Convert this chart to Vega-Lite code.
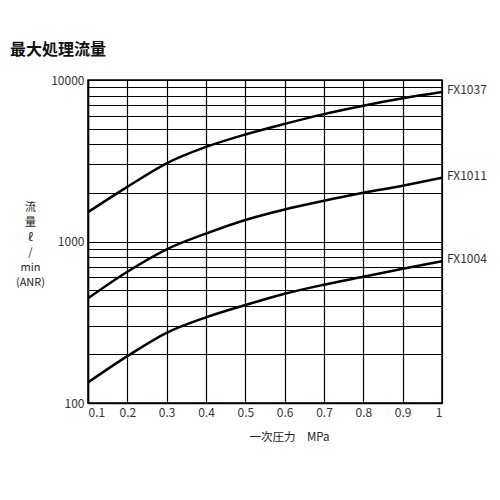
{
  "$schema": "https://vega.github.io/schema/vega-lite/v6.json",
  "width": 354,
  "height": 323,
  "autosize": "none",
  "padding": {"left": 88, "top": 80, "right": 58, "bottom": 97},
  "background": "white",
  "title": {
    "text": "最大処理流量",
    "anchor": "start",
    "frame": "group",
    "dx": -78,
    "offset": 16,
    "font": "Noto Sans CJK JP",
    "fontSize": 16,
    "fontWeight": "bold",
    "color": "#111"
  },
  "config": {
    "view": {"stroke": "black", "strokeWidth": 1.5},
    "axis": {
      "labelFont": "Noto Sans CJK JP",
      "titleFont": "Noto Sans CJK JP",
      "labelFontSize": 12,
      "titleFontSize": 11.5,
      "labelColor": "#333",
      "titleColor": "#222",
      "titleFontWeight": "normal",
      "gridColor": "black",
      "gridOpacity": 1,
      "gridWidth": 1.2,
      "domainColor": "black",
      "domainWidth": 1.5,
      "ticks": false
    }
  },
  "data": {
    "values": [
      {"series": "FX1037", "p": 0.1, "q": 1520},
      {"series": "FX1037", "p": 0.2, "q": 2180},
      {"series": "FX1037", "p": 0.3, "q": 3050},
      {"series": "FX1037", "p": 0.4, "q": 3850},
      {"series": "FX1037", "p": 0.5, "q": 4600},
      {"series": "FX1037", "p": 0.6, "q": 5350},
      {"series": "FX1037", "p": 0.7, "q": 6150},
      {"series": "FX1037", "p": 0.8, "q": 6930},
      {"series": "FX1037", "p": 0.9, "q": 7700},
      {"series": "FX1037", "p": 1.0, "q": 8430},
      {"series": "FX1011", "p": 0.1, "q": 445},
      {"series": "FX1011", "p": 0.2, "q": 650},
      {"series": "FX1011", "p": 0.3, "q": 895},
      {"series": "FX1011", "p": 0.4, "q": 1120},
      {"series": "FX1011", "p": 0.5, "q": 1360},
      {"series": "FX1011", "p": 0.6, "q": 1580},
      {"series": "FX1011", "p": 0.7, "q": 1790},
      {"series": "FX1011", "p": 0.8, "q": 2005},
      {"series": "FX1011", "p": 0.9, "q": 2215},
      {"series": "FX1011", "p": 1.0, "q": 2480},
      {"series": "FX1004", "p": 0.1, "q": 134},
      {"series": "FX1004", "p": 0.2, "q": 195},
      {"series": "FX1004", "p": 0.3, "q": 272},
      {"series": "FX1004", "p": 0.4, "q": 339},
      {"series": "FX1004", "p": 0.5, "q": 404},
      {"series": "FX1004", "p": 0.6, "q": 475},
      {"series": "FX1004", "p": 0.7, "q": 540},
      {"series": "FX1004", "p": 0.8, "q": 605},
      {"series": "FX1004", "p": 0.9, "q": 678},
      {"series": "FX1004", "p": 1.0, "q": 754}
    ]
  },
  "encoding": {
    "x": {
      "field": "p",
      "type": "quantitative",
      "scale": {"domain": [0.1, 1], "nice": false, "zero": false},
      "axis": {
        "values": [0.1, 0.2, 0.3, 0.4, 0.5, 0.6, 0.7, 0.8, 0.9, 1],
        "format": "~g",
        "labelPadding": 4,
        "title": "一次圧力　MPa",
        "titleX": 201,
        "titleY": 28
      }
    },
    "y": {
      "field": "q",
      "type": "quantitative",
      "scale": {"type": "log", "domain": [100, 10000], "nice": false},
      "axis": {
        "values": [100, 200, 300, 400, 500, 600, 700, 800, 900, 1000, 2000, 3000, 4000, 5000, 6000, 7000, 8000, 9000, 10000],
        "labelExpr": "datum.value == 100 || datum.value == 1000 || datum.value == 10000 ? datum.value : ''",
        "labelPadding": 4,
        "title": ["流", "量", "ℓ", "/", "min", "(ANR)"],
        "titleAngle": 0,
        "titleAlign": "center",
        "titleBaseline": "top",
        "titleFontSize": 11,
        "titleX": -58,
        "titleY": 121,
        "titleLineHeight": 15
      }
    }
  },
  "layer": [
    {
      "mark": {"type": "line", "color": "black", "strokeWidth": 2.5, "interpolate": "monotone"},
      "encoding": {"detail": {"field": "series"}}
    },
    {
      "transform": [{"filter": "datum.p == 1"}],
      "mark": {"type": "text", "align": "left", "dx": 5, "dy": -2, "font": "Noto Sans CJK JP", "fontSize": 12, "color": "#333"},
      "encoding": {"text": {"field": "series"}}
    }
  ]
}
